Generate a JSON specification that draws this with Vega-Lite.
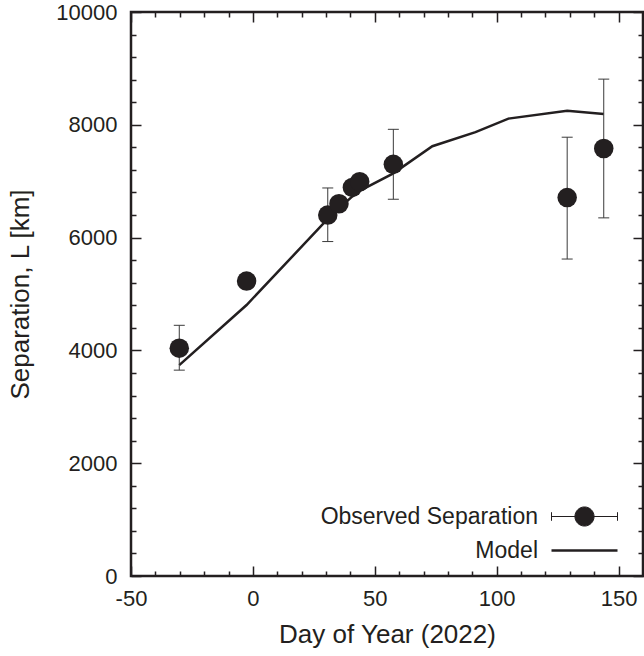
{
  "$schema": "https://vega.github.io/schema/vega-lite/v6.json",
  "width": 512,
  "height": 564,
  "autosize": {"type": "none"},
  "padding": {"left": 131, "top": 12, "right": 1, "bottom": 80},
  "background": "white",
  "config": {
    "view": {"stroke": "#231f20", "strokeWidth": 2.5},
    "font": "Liberation Sans",
    "axis": {
      "domain": false,
      "labelFont": "Liberation Sans",
      "labelFontSize": 22,
      "labelColor": "#231f20",
      "titleFont": "Liberation Sans",
      "titleFontSize": 26,
      "titleFontWeight": "normal",
      "titleColor": "#231f20",
      "gridColor": "#231f20",
      "gridOpacity": 1,
      "gridWidth": 1.5,
      "labelFlush": false,
      "labelOverlap": false
    }
  },
  "datasets": {
    "obs": [
      {"day": -30.2, "sep": 4040, "lo": 3650, "hi": 4445},
      {"day": -2.6, "sep": 5230, "lo": null, "hi": null},
      {"day": 30.7, "sep": 6400, "lo": 5930, "hi": 6880},
      {"day": 35.3, "sep": 6600, "lo": null, "hi": null},
      {"day": 40.8, "sep": 6890, "lo": null, "hi": null},
      {"day": 43.8, "sep": 6990, "lo": null, "hi": null},
      {"day": 57.6, "sep": 7300, "lo": 6680, "hi": 7920},
      {"day": 128.9, "sep": 6710, "lo": 5620, "hi": 7780},
      {"day": 143.9, "sep": 7580, "lo": 6350, "hi": 8810}
    ],
    "model": [
      {"day": -30.2, "sep": 3740},
      {"day": -2.6, "sep": 4805},
      {"day": 30.7, "sep": 6330},
      {"day": 35.3, "sep": 6520},
      {"day": 40.8, "sep": 6730},
      {"day": 43.8, "sep": 6830},
      {"day": 57.6, "sep": 7140},
      {"day": 73.6, "sep": 7620},
      {"day": 91.3, "sep": 7870},
      {"day": 104.8, "sep": 8110},
      {"day": 128.9, "sep": 8250},
      {"day": 143.9, "sep": 8190}
    ]
  },
  "layer": [
    {
      "data": {"name": "model"},
      "mark": {"type": "line", "strokeWidth": 2.5},
      "encoding": {
        "x": {
          "field": "day", "type": "quantitative",
          "scale": {"domain": [-50, 160], "nice": false, "zero": false},
          "axis": {
            "orient": "bottom",
            "values": [-50, -40, -30, -20, -10, 0, 10, 20, 30, 40, 50, 60, 70, 80, 90, 100, 110, 120, 130, 140, 150],
            "tickCount": 200,
            "ticks": false,
            "grid": true,
            "gridDash": {"condition": {"test": "datum.value % 50 === 0", "value": [10, 544, 10, 10]}, "value": [5, 554, 5, 10]},
            "labelExpr": "datum.value % 50 === 0 ? '' + datum.value : ''",
            "labelPadding": 12, "title": "Day of Year (2022)", "titlePadding": 12
          }
        },
        "y": {
          "field": "sep", "type": "quantitative",
          "scale": {"domain": [0, 10000], "nice": false, "zero": false},
          "axis": {
            "orient": "left",
            "values": [0, 400, 800, 1200, 1600, 2000, 2400, 2800, 3200, 3600, 4000, 4400, 4800, 5200, 5600, 6000, 6400, 6800, 7200, 7600, 8000, 8400, 8800, 9200, 9600, 10000],
            "tickCount": 200,
            "ticks": false,
            "grid": true,
            "gridDash": {"condition": {"test": "datum.value % 2000 === 0", "value": [10, 492, 10, 10]}, "value": [5, 502, 5, 10]},
            "labelExpr": "datum.value % 2000 === 0 ? '' + datum.value : ''",
            "labelPadding": 14, "title": "Separation, L [km]", "titlePadding": 22
          }
        },
        "color": {
          "datum": "Model",
          "scale": {"domain": ["Observed Separation", "Model"], "range": ["#231f20", "#231f20"]},
          "legend": {
            "title": null,
            "orient": "none",
            "legendX": 442,
            "legendY": 493,
            "padding": 0,
            "symbolSize": 4356,
            "symbolStrokeWidth": 1.5,
            "labelAlign": "right",
            "labelOffset": -58,
            "labelFont": "Liberation Sans",
            "labelFontSize": 23,
            "labelColor": "#231f20",
            "labelLimit": 400,
            "rowPadding": 10,
            "encode": {
              "symbols": {
                "update": {
                  "shape": {"signal": "datum.value === 'Model' ? 'M-1,0L1,0' : 'M-1,-0.13L-1,0.13M-1,0L1,0M1,-0.13L1,0.13M0.29,0A0.29,0.29 0 1 1 -0.29,0A0.29,0.29 0 1 1 0.29,0Z'"},
                  "fill": {"signal": "datum.value === 'Model' ? 'transparent' : '#231f20'"},
                  "stroke": {"value": "#231f20"},
                  "strokeWidth": {"signal": "datum.value === 'Model' ? 2.5 : 1"},
                  "opacity": {"value": 1}
                }
              }
            }
          }
        }
      }
    },
    {
      "data": {"name": "obs"},
      "transform": [{"filter": "isValid(datum.lo)"}],
      "mark": {"type": "rule", "color": "#3a3a3a", "strokeWidth": 1},
      "encoding": {
        "x": {"field": "day", "type": "quantitative"},
        "y": {"field": "lo", "type": "quantitative"},
        "y2": {"field": "hi"}
      }
    },
    {
      "data": {"name": "obs"},
      "transform": [{"filter": "isValid(datum.lo)"}],
      "mark": {"type": "tick", "orient": "horizontal", "size": 11, "thickness": 1, "color": "#3a3a3a", "opacity": 1},
      "encoding": {
        "x": {"field": "day", "type": "quantitative"},
        "y": {"field": "lo", "type": "quantitative"}
      }
    },
    {
      "data": {"name": "obs"},
      "transform": [{"filter": "isValid(datum.hi)"}],
      "mark": {"type": "tick", "orient": "horizontal", "size": 11, "thickness": 1, "color": "#3a3a3a", "opacity": 1},
      "encoding": {
        "x": {"field": "day", "type": "quantitative"},
        "y": {"field": "hi", "type": "quantitative"}
      }
    },
    {
      "data": {"name": "obs"},
      "mark": {"type": "point", "filled": true, "size": 380, "opacity": 1, "shape": "circle"},
      "encoding": {
        "x": {"field": "day", "type": "quantitative"},
        "y": {"field": "sep", "type": "quantitative"},
        "color": {"datum": "Observed Separation"}
      }
    }
  ]
}
